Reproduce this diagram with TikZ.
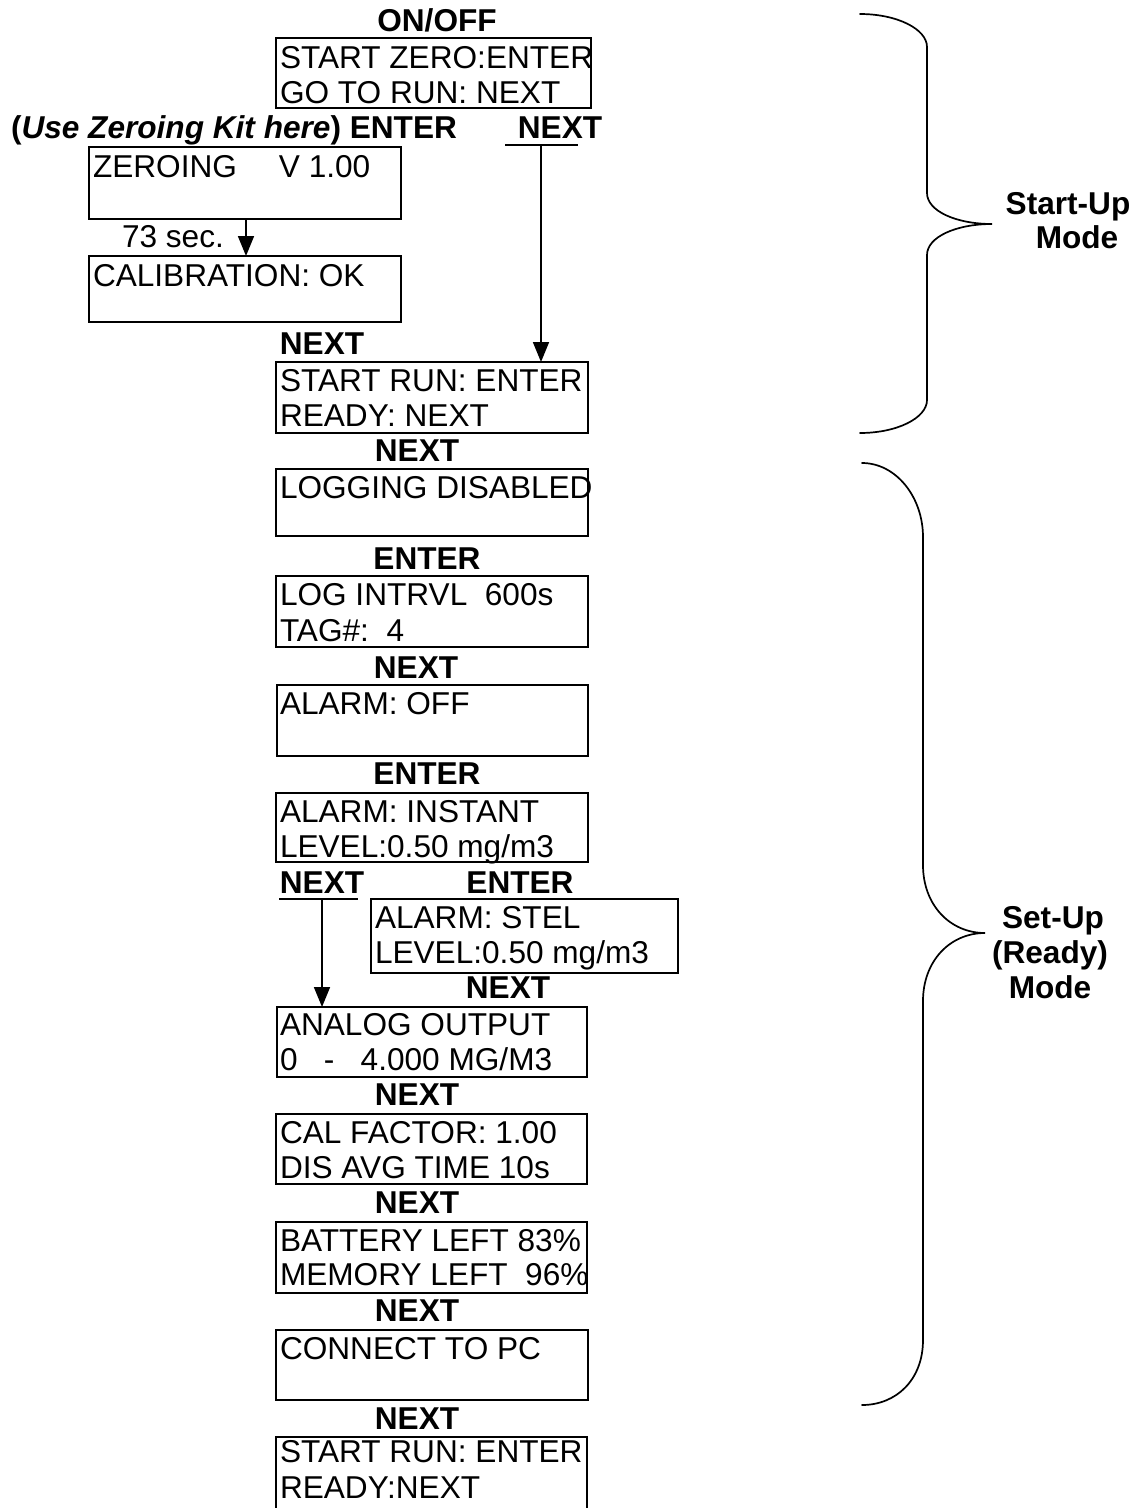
\documentclass[tikz,border=0pt]{standalone}
\usepackage{fontspec}
\setmainfont{Liberation Sans}
\usetikzlibrary{arrows.meta}
\begin{document}
\begin{tikzpicture}[x=1pt,y=-1pt,
  box/.style={draw, line width=1.7pt, anchor=north west, inner sep=0pt, outer sep=0pt},
  txt/.style={anchor=base west, inner sep=0pt, outer sep=0pt, font=\fontsize{31.6}{31.6}\selectfont},
  lbl/.style={anchor=base, inner sep=0pt, outer sep=0pt, font=\fontsize{31.6}{31.6}\selectfont\bfseries},
  ln/.style={line width=1.7pt},
  arr/.style={line width=1.7pt, -{Triangle[length=20pt,width=16pt]}},
  brace/.style={line width=1.7pt, line cap=round}]
\useasboundingbox (0,0) rectangle (1136,1508);

% ---- Start-up section ----
\node[lbl] (onoff) at (437,31) {ON/OFF};
\node[box, minimum width=315pt, minimum height=70pt] (zero1) at (276,38) {};
\node[txt] (zero1a) at (280,68) {START ZERO:ENTER};
\node[txt] (zero1b) at (280,103) {GO TO RUN: NEXT};

\node[lbl, anchor=base west] (usekit) at (11,138) {(\textit{Use Zeroing Kit here}) ENTER};
\node[lbl] (nextR) at (560,138) {NEXT};
\coordinate (nrA) at (505,145);
\coordinate (nrB) at (578,145);
\coordinate (nrC) at (541,145);
\draw[ln] (nrA) -- (nrB);

\node[box, minimum width=312pt, minimum height=72pt] (zeroing) at (89,147) {};
\node[txt] (zeroinga) at (93,177) {ZEROING\hspace{42pt}V 1.00};
\node[txt] (sec) at (122,247) {73 sec.};
\node[box, minimum width=312pt, minimum height=66pt] (calib) at (89,256) {};
\node[txt] (caliba) at (93,286) {CALIBRATION: OK};
\coordinate (zs) at (246,219);
\draw[arr] (zs) -- (zs |- calib.north);

\node[lbl] (nextL1) at (322,354) {NEXT};
\node[box, minimum width=312pt, minimum height=71pt] (run1) at (276,362) {};
\node[txt] (run1a) at (280,391) {START RUN: ENTER};
\node[txt] (run1b) at (280,426) {READY: NEXT};
\draw[arr] (nrC) -- (nrC |- run1.north);

% ---- Set-up section ----
\node[lbl] (n2) at (417,461) {NEXT};
\node[box, minimum width=312pt, minimum height=67pt] (logdis) at (276,469) {};
\node[txt] (logdisa) at (280,498) {LOGGING DISABLED};

\node[lbl] (e1) at (427,569) {ENTER};
\node[box, minimum width=312pt, minimum height=71pt] (logint) at (276,576) {};
\node[txt] (loginta) at (280,605) {LOG INTRVL\ \ 600s};
\node[txt] (logintb) at (280,641) {TAG\#:\ \ 4};

\node[lbl] (n3) at (416,678) {NEXT};
\node[box, minimum width=311pt, minimum height=71pt] (aloff) at (277,685) {};
\node[txt] (aloffa) at (280,714) {ALARM: OFF};

\node[lbl] (e2) at (427,784) {ENTER};
\node[box, minimum width=312pt, minimum height=69pt] (alinst) at (276,793) {};
\node[txt] (alinsta) at (280,822) {ALARM: INSTANT};
\node[txt] (alinstb) at (280,857) {LEVEL:0.50 mg/m3};

\node[lbl] (nextL2) at (322,893) {NEXT};
\coordinate (nlA) at (279,899);
\coordinate (nlB) at (358,899);
\coordinate (nlC) at (322,899);
\draw[ln] (nlA) -- (nlB);
\node[lbl] (e3) at (520,893) {ENTER};
\node[box, minimum width=307pt, minimum height=74pt] (stel) at (371,899) {};
\node[txt] (stela) at (375,928) {ALARM: STEL};
\node[txt] (stelb) at (375,963) {LEVEL:0.50 mg/m3};
\node[lbl] (n4) at (508,998) {NEXT};

\node[box, minimum width=310pt, minimum height=70pt] (analog) at (277,1007) {};
\node[txt] (analoga) at (280,1035) {ANALOG OUTPUT};
\node[txt] (analogb) at (280,1070) {0\ \ \ -\ \ \ 4.000 MG/M3};
\draw[arr] (nlC) -- (nlC |- analog.north);

\node[lbl] (n5) at (417,1105) {NEXT};
\node[box, minimum width=311pt, minimum height=70pt] (calf) at (276,1114) {};
\node[txt] (calfa) at (280,1143) {CAL FACTOR: 1.00};
\node[txt] (calfb) at (280,1178) {DIS AVG TIME 10s};

\node[lbl] (n6) at (417,1213) {NEXT};
\node[box, minimum width=311pt, minimum height=71pt] (batt) at (276,1222) {};
\node[txt] (batta) at (280,1251) {BATTERY LEFT 83\%};
\node[txt] (battb) at (280,1285) {MEMORY LEFT\ \ 96\%};

\node[lbl] (n7) at (417,1321) {NEXT};
\node[box, minimum width=312pt, minimum height=70pt] (pc) at (276,1330) {};
\node[txt] (pca) at (280,1359) {CONNECT TO PC};

\node[lbl] (n8) at (417,1429) {NEXT};
\node[box, minimum width=311pt, minimum height=75pt] (run2) at (276,1437) {};
\node[txt] (run2a) at (280,1462) {START RUN: ENTER};
\node[txt] (run2b) at (280,1498) {READY:NEXT};

% ---- Braces ----
\draw[brace] (860,14) .. controls (897,14) and (927,29) .. (927,47)
  -- (927,193) .. controls (927,211) and (956,224) .. (992,224)
  .. controls (956,224) and (927,237) .. (927,255)
  -- (927,400) .. controls (927,418) and (897,433) .. (860,433);
\node[lbl] (su1) at (1068,214) {Start-Up};
\node[lbl] (su2) at (1077,248) {Mode};

\draw[brace] (862,463) .. controls (896,463) and (923,497) .. (923,537)
  -- (923,865) .. controls (923,905) and (950,933) .. (985,933)
  .. controls (950,933) and (923,961) .. (923,1001)
  -- (923,1340) .. controls (923,1380) and (896,1405) .. (862,1405);
\node[lbl] (rd1) at (1053,928) {Set-Up};
\node[lbl] (rd2) at (1050,963) {(Ready)};
\node[lbl] (rd3) at (1050,998) {Mode};
\end{tikzpicture}
\end{document}
